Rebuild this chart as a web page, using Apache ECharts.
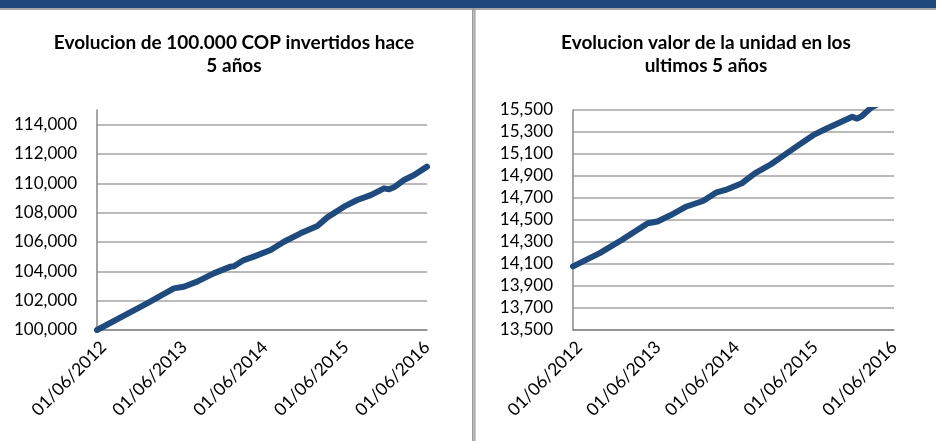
<!DOCTYPE html>
<html>
<head>
<meta charset="utf-8">
<script src="https://cdn.jsdelivr.net/npm/echarts@6/dist/echarts.min.js"></script>
<style>html,body{margin:0;padding:0;background:#fff;}#c{width:936px;height:441px;}</style>
</head>
<body>
<div id="c"></div>
<script>
// ---- data ----
const dates = ['2012-06-01','2012-10-03','2013-01-13','2013-05-14','2013-06-28','2013-08-27','2013-11-10',
  '2014-01-25','2014-02-09','2014-03-26','2014-05-10','2014-07-25','2014-09-23','2014-12-07',
  '2015-02-21','2015-04-07','2015-06-21','2015-08-20','2015-10-20','2015-12-19','2016-01-11',
  '2016-02-02','2016-03-18','2016-05-03','2016-06-30'];
const inversion = [100000,101000,101820,102840,102950,103300,103860,104320,104350,104770,105000,105450,
  106020,106590,107090,107680,108410,108860,109200,109660,109590,109730,110230,110570,111140];
const unidad = [14078,14199,14318,14470,14487,14543,14623,14673,14690,14748,14773,14834,14923,15007,
  15110,15172,15271,15330,15385,15438,15422,15445,15525,15570,15646];
const xTickLabels = ['2012-06-01','2013-06-01','2014-06-01','2015-06-01','2016-06-01'];
const yTicksLeft = [100000,102000,104000,106000,108000,110000,112000,114000];
const yTicksRight = [13500,13700,13900,14100,14300,14500,14700,14900,15100,15300,15500];
const titleLeft = 'Evolucion de 100.000 COP invertidos hace\n5 años';
const titleRight = 'Evolucion valor de la unidad en los\nultimos 5 años';

const FONT = 'Lato';
const LINE_COLOR = '#1F4A7E';
const chart = echarts.init(document.getElementById('c'), null, {renderer: 'canvas'});
const ts = s => Date.parse(s + 'T00:00:00Z');
const fmtNum = v => Number(v).toLocaleString('en-US');
const pad = n => (n < 10 ? '0' : '') + n;
const fmtDate = v => { const d = new Date(v); return pad(d.getUTCDate()) + '/' + pad(d.getUTCMonth() + 1) + '/' + d.getUTCFullYear(); };
const xTickValues = xTickLabels.map(ts);

function xAxis(gi) {
  return {
    type: 'value', gridIndex: gi, min: ts(dates[0]), max: ts(dates[dates.length - 1]),
    axisLine: {show: true, onZero: false, lineStyle: {color: '#898989', width: 1.5}},
    axisTick: {show: false, customValues: xTickValues},
    splitLine: {show: false},
    axisLabel: {
      customValues: xTickValues, rotate: 45, formatter: fmtDate, margin: 8,
      verticalAlign: 'top',
      color: '#000', fontFamily: FONT, fontSize: 17.5, hideOverlap: false
    }
  };
}
function yAxis(gi, min, max, ticks) {
  return {
    type: 'value', gridIndex: gi, min: min, max: max,
    axisLine: {show: true, onZero: false, lineStyle: {color: '#898989', width: 1.5}},
    axisTick: {show: false, customValues: ticks},
    splitLine: {show: true, lineStyle: {color: '#A3A3A3', width: 1.5}},
    axisLabel: {customValues: ticks, formatter: fmtNum, color: '#000', fontFamily: FONT, fontSize: 17, margin: 20}
  };
}
const titleStyle = {fontFamily: FONT, fontWeight: 'bold', fontSize: 19, color: '#000', lineHeight: 23.5};

chart.setOption({
  animation: false,
  backgroundColor: '#fff',
  title: [
    {text: titleLeft, left: 234, top: 31, padding: 0, textAlign: 'center', textStyle: titleStyle},
    {text: titleRight, left: 706, top: 31, padding: 0, textAlign: 'center', textStyle: titleStyle}
  ],
  graphic: [
    {type: 'rect', shape: {x: 0, y: 0, width: 936, height: 8}, style: {fill: '#1F497D'}, silent: true},
    {type: 'rect', shape: {x: 0, y: 8, width: 936, height: 2}, style: {fill: '#A6A6A6'}, silent: true},
    {type: 'rect', shape: {x: 472, y: 8, width: 3.5, height: 433}, style: {fill: '#9A9A9A'}, silent: true},
    {type: 'rect', shape: {x: 473.2, y: 10, width: 1.2, height: 431}, style: {fill: '#C8C8C8'}, silent: true}
  ],
  grid: [
    {left: 97, right: 936 - 427, top: 110, bottom: 441 - 330, containLabel: false},
    {left: 573, right: 936 - 894, top: 110, bottom: 441 - 330, containLabel: false}
  ],
  xAxis: [xAxis(0), xAxis(1)],
  yAxis: [yAxis(0, 100000, 115000, yTicksLeft), yAxis(1, 13500, 15500, yTicksRight)],
  series: [
    {type: 'line', xAxisIndex: 0, yAxisIndex: 0, data: dates.map((d, i) => [ts(d), inversion[i]]),
     showSymbol: false, smooth: false, clip: true, lineStyle: {color: LINE_COLOR, width: 6, cap: 'round', join: 'round'}},
    {type: 'line', xAxisIndex: 1, yAxisIndex: 1, data: dates.map((d, i) => [ts(d), unidad[i]]),
     showSymbol: false, smooth: false, clip: true, lineStyle: {color: LINE_COLOR, width: 6, cap: 'round', join: 'round'}}
  ]
});
</script>
</body>
</html>
